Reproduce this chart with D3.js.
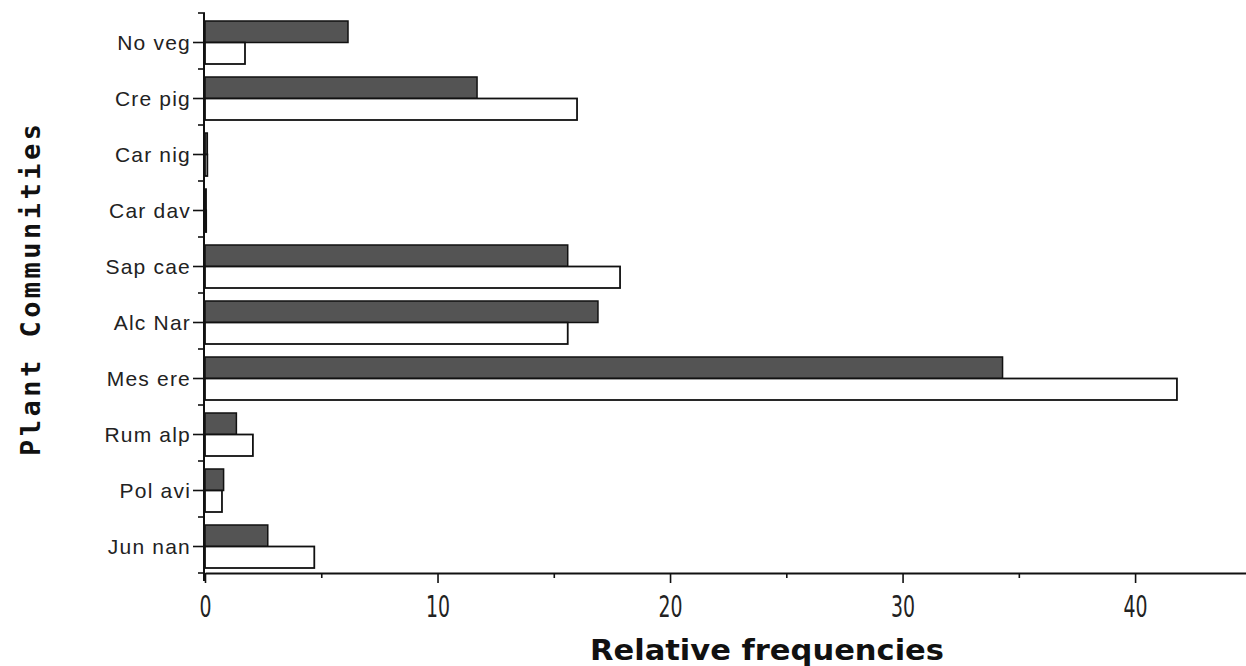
<!DOCTYPE html>
<html>
<head>
<meta charset="utf-8">
<script src="https://cdn.jsdelivr.net/npm/d3@7"></script>
<style>
body { margin: 0; background: #fff; }
svg { display: block; }
</style>
</head>
<body>
<svg width="1246" height="666"></svg>
<script>
var categories = ["No veg", "Cre pig", "Car nig", "Car dav", "Sap cae", "Alc Nar", "Mes ere", "Rum alp", "Pol avi", "Jun nan"];
var darkValues = [6.15, 11.7, 0.1, 0.05, 15.6, 16.9, 34.3, 1.35, 0.8, 2.7];
var whiteValues = [1.72, 16.0, 0.1, 0.05, 17.85, 15.6, 41.8, 2.06, 0.73, 4.7];
var majorTicks = [0, 10, 20, 30, 40];
var minorTicks = [5, 15, 25, 35];

var svg = d3.select("svg");

var x = d3.scaleLinear().domain([0, 44.77]).range([205, 1246]);
var y = d3.scaleBand().domain(categories).range([13, 573]);
var inner = d3.scaleBand().domain(["dark", "white"]).range([8, 51]);

var rows = categories.map(function (c, i) {
    return {name: c, dark: darkValues[i], white: whiteValues[i]};
});

// bars
var g = svg.append("g");
g.selectAll("rect.dark").data(rows).enter().append("rect")
    .attr("class", "dark")
    .attr("x", x(0))
    .attr("y", function (d) { return y(d.name) + inner("dark"); })
    .attr("width", function (d) { return x(d.dark) - x(0); })
    .attr("height", inner.bandwidth())
    .style("fill", "#545454")
    .style("stroke", "#111")
    .style("stroke-width", 1.5);

g.selectAll("rect.white").data(rows).enter().append("rect")
    .attr("class", "white")
    .attr("x", x(0))
    .attr("y", function (d) { return y(d.name) + inner("white"); })
    .attr("width", function (d) { return x(d.white) - x(0); })
    .attr("height", inner.bandwidth())
    .style("fill", "#fff")
    .style("stroke", "#111")
    .style("stroke-width", 1.8);

// x axis
var xAxis = svg.append("g").attr("transform", "translate(0,573)")
    .call(d3.axisBottom(x).tickValues(majorTicks).tickSize(10).tickSizeOuter(0).tickPadding(13));
xAxis.select(".domain").style("stroke", "#111").style("stroke-width", 2);
xAxis.selectAll(".tick line").style("stroke", "#111").style("stroke-width", 1.6);
xAxis.selectAll(".tick text")
    .attr("transform", "scale(0.7,1)")
    .style("font-family", "'DejaVu Sans Condensed', 'DejaVu Sans', sans-serif")
    .style("font-size", "30px")
    .style("fill", "#222");

var xMinor = svg.append("g").attr("transform", "translate(0,573)")
    .call(d3.axisBottom(x).tickValues(minorTicks).tickSize(5).tickFormat(""));
xMinor.select(".domain").remove();
xMinor.selectAll(".tick line").style("stroke", "#111").style("stroke-width", 1.6);

// y axis
var yAxis = svg.append("g");
yAxis.append("line")
    .attr("x1", x(0) - 1).attr("x2", x(0) - 1)
    .attr("y1", y.range()[0]).attr("y2", y.range()[1] + 8)
    .style("stroke", "#111").style("stroke-width", 2);

var bounds = categories.map(function (c) { return y(c); }).concat([y.range()[1]]);
yAxis.selectAll("line.minor").data(bounds).enter().append("line")
    .attr("class", "minor")
    .attr("x1", x(0) - 7).attr("x2", x(0))
    .attr("y1", function (d) { return d; }).attr("y2", function (d) { return d; })
    .style("stroke", "#111").style("stroke-width", 1.6);

yAxis.selectAll("line.major").data(categories).enter().append("line")
    .attr("class", "major")
    .attr("x1", x(0) - 12).attr("x2", x(0))
    .attr("y1", function (d) { return y(d) + inner("white"); })
    .attr("y2", function (d) { return y(d) + inner("white"); })
    .style("stroke", "#111").style("stroke-width", 1.6);

yAxis.selectAll("text").data(categories).enter().append("text")
    .attr("x", x(0) - 14)
    .attr("y", function (d) { return y(d) + inner("white"); })
    .attr("dy", "0.35em")
    .attr("text-anchor", "end")
    .style("font-family", "'Liberation Sans', Arial, sans-serif")
    .style("font-size", "21px")
    .style("letter-spacing", "1.2px")
    .style("fill", "#222")
    .text(function (d) { return d; });

// titles
svg.append("text")
    .attr("x", 767).attr("y", 660)
    .attr("text-anchor", "middle")
    .attr("textLength", 354)
    .attr("lengthAdjust", "spacingAndGlyphs")
    .style("font-family", "'DejaVu Sans Condensed', 'DejaVu Sans', sans-serif")
    .style("font-weight", "bold")
    .style("font-size", "29px")
    .style("fill", "#111")
    .text("Relative frequencies");

svg.append("text")
    .attr("transform", "translate(40,290) rotate(-90)")
    .attr("text-anchor", "middle")
    .attr("textLength", 332)
    .style("font-family", "'DejaVu Sans Mono', monospace")
    .style("font-weight", "bold")
    .style("font-size", "27px")
    .style("fill", "#111")
    .text("Plant Communities");
</script>
</body>
</html>
